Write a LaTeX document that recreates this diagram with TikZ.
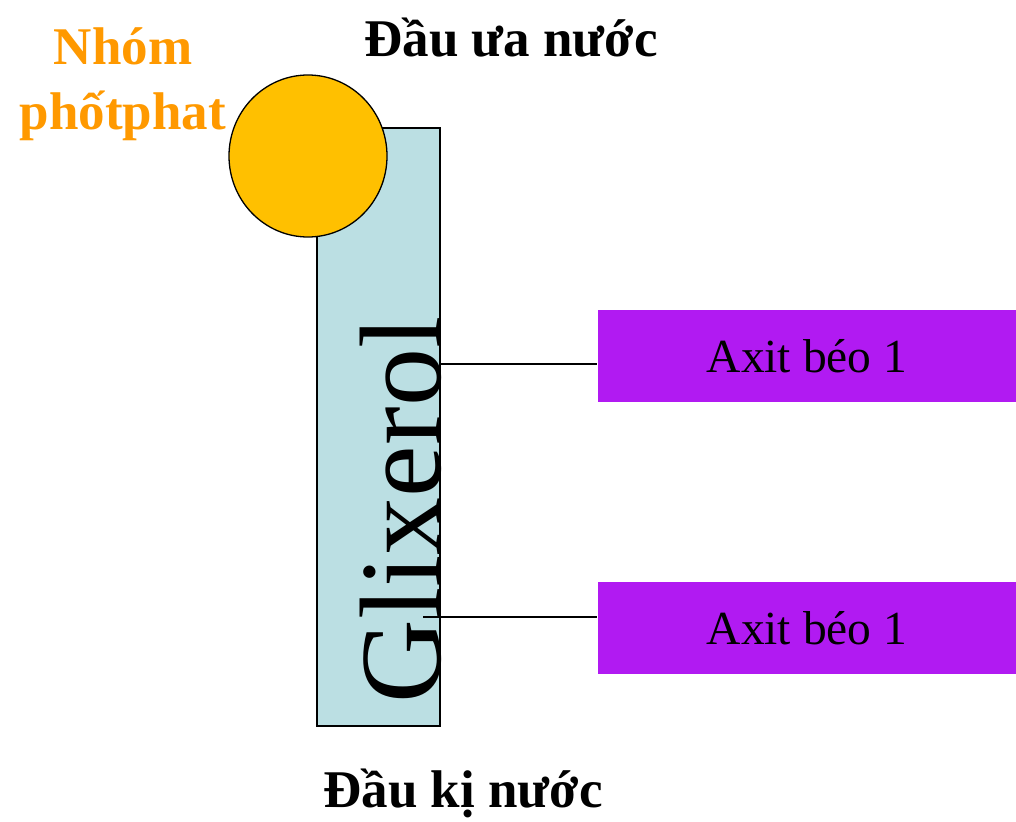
\documentclass[tikz,border=0pt]{standalone}
\usepackage{fontspec}
\setmainfont{Liberation Serif}
\usetikzlibrary{shapes.geometric}
\definecolor{glyblue}{HTML}{BBDFE3}
\definecolor{sunyellow}{HTML}{FFC000}
\definecolor{acidpurple}{HTML}{B11AF2}
\definecolor{labelorange}{HTML}{FF9900}
\tikzset{
  bigtitle/.style={font=\bfseries\fontsize{53}{64.5}\selectfont, inner sep=0pt},
  acidbox/.style={fill=acidpurple, minimum width=419pt, minimum height=92pt, inner sep=0pt,
                  font=\fontsize{47.5}{52}\selectfont},
  bond/.style={draw=black, line width=1.2pt}
}
\begin{document}
\begin{tikzpicture}[x=1pt,y=-1pt]
\useasboundingbox (0,0) rectangle (1016,821);
% glycerol bar
\node[draw=black, line width=1.2pt, fill=glyblue, minimum width=123pt, minimum height=598pt, inner sep=0pt] (gly) at (378.5,427) {};
\node[rotate=90, anchor=base, inner sep=0pt, font=\fontsize{116}{120}\selectfont] (glytext) at (440,510) {Glixerol};
% phosphate head
\node[ellipse, draw=black, line width=1.3pt, fill=sunyellow, minimum width=158pt, minimum height=162pt, inner sep=0pt] (head) at (308,156) {};
% fatty acids
\node[acidbox] (a1) at (807,356) {Axit béo 1};
\node[acidbox, minimum width=419pt] (a2) at (807,628) {Axit béo 1};
\coordinate (b1) at (440,364);
\coordinate (b2) at (423,617);
\draw[bond] (b1) -- (a1.west |- b1);
\draw[bond] (b2) -- (a2.west |- b2);
% labels
\node[bigtitle, text=labelorange, align=center] (phos) at (123,84) {Nhóm\\phốtphat};
\node[bigtitle, anchor=base] (hydrophil) at (511,57) {Đầu ưa nước};
\node[bigtitle, anchor=base] (hydrophob) at (463,807) {Đầu kị nước};
\end{tikzpicture}
\end{document}
